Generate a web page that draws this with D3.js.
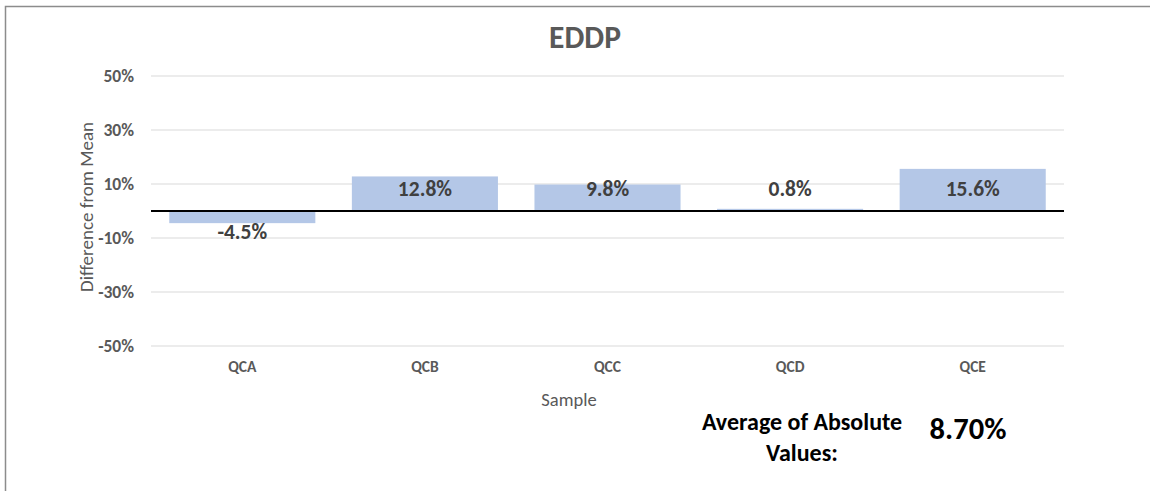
<!DOCTYPE html>
<html>
<head>
<meta charset="utf-8">
<script src="https://cdn.jsdelivr.net/npm/d3@7"></script>
<style>
  body { margin: 0; background: #fff; }
  svg { display: block; font-family: Calibri, Carlito, Lato, "Open Sans", sans-serif; }
</style>
</head>
<body>
<div id="chart"></div>
<script>
const categories = ['QCA', 'QCB', 'QCC', 'QCD', 'QCE'];
const values = [-4.5, 12.8, 9.8, 0.8, 15.6];
const yTicks = [-50, -30, -10, 10, 30, 50];
const title = 'EDDP';
const averageAbs = '8.70%';

const width = 1150, height = 491;
const margin = [76, 145, 151, 86]; // top, bottom, left, right
const font = 'Calibri, Carlito, Lato, sans-serif';

const svg = d3.select('#chart').append('svg')
    .attr('width', width).attr('height', height);

// outer frame (top and left edges visible)
svg.append('path')
    .attr('d', `M5.5,${height} V6.5 H${width}`)
    .attr('fill', 'none').attr('stroke', '#8c8c8c').attr('stroke-width', 1.5);

const scaleX = d3.scaleBand(categories, [margin[2], width - margin[3]])
    .paddingInner(0.2).paddingOuter(0.1);
const scaleY = d3.scaleLinear([-50, 50], [height - margin[1], margin[0]]);

// gridlines
svg.append('g').selectAll('line')
    .data(yTicks)
    .join('line')
    .attr('x1', margin[2]).attr('x2', width - margin[3])
    .attr('y1', d => scaleY(d)).attr('y2', d => scaleY(d))
    .attr('stroke', '#d9d9d9').attr('stroke-width', 1.2);

// y axis labels
const axisY = svg.append('g')
    .attr('transform', `translate(${margin[2] - 5},0)`)
    .call(d3.axisLeft(scaleY).tickValues(yTicks).tickSize(0).tickPadding(12)
        .tickFormat(d => d + '%'));
axisY.select('.domain').remove();
axisY.selectAll('text')
    .attr('font-family', font)
    .attr('font-size', 17.5).attr('font-weight', 'bold').attr('fill', '#595959');

// x axis labels
const axisX = svg.append('g')
    .attr('transform', `translate(0,${scaleY(-50)})`)
    .call(d3.axisBottom(scaleX).tickSize(0));
axisX.select('.domain').remove();
axisX.selectAll('text')
    .attr('y', 26).attr('dy', 0)
    .attr('font-family', font)
    .attr('font-size', 15.5).attr('font-weight', 'bold').attr('fill', '#595959');

// bars
svg.append('g').selectAll('rect')
    .data(values)
    .join('rect')
    .attr('x', (d, i) => scaleX(categories[i]))
    .attr('width', scaleX.bandwidth())
    .attr('y', d => scaleY(Math.max(0, d)))
    .attr('height', d => Math.abs(scaleY(d) - scaleY(0)))
    .attr('fill', '#b4c7e7');

// zero line
svg.append('line')
    .attr('x1', margin[2]).attr('x2', width - margin[3])
    .attr('y1', scaleY(0)).attr('y2', scaleY(0))
    .attr('stroke', '#000').attr('stroke-width', 2);

// value labels (inside base)
svg.append('g').selectAll('text')
    .data(values)
    .join('text')
    .attr('x', (d, i) => scaleX(categories[i]) + scaleX.bandwidth() / 2)
    .attr('y', d => scaleY(0) + (d >= 0 ? -15 : 28))
    .attr('text-anchor', 'middle')
    .attr('font-size', 21.5).attr('font-weight', 'bold').attr('fill', '#404040')
    .text(d => d.toFixed(1) + '%');

// title
svg.append('text')
    .attr('x', 585).attr('y', 48)
    .attr('text-anchor', 'middle')
    .attr('font-size', 31.5).attr('font-weight', 'bold').attr('fill', '#595959')
    .text(title);

// axis titles
svg.append('text')
    .attr('transform', `translate(93,207)rotate(-90)`)
    .attr('text-anchor', 'middle')
    .attr('font-size', 19).attr('fill', '#595959')
    .text('Difference from Mean');
svg.append('text')
    .attr('x', 569).attr('y', 406)
    .attr('text-anchor', 'middle')
    .attr('font-size', 18.5).attr('fill', '#595959')
    .text('Sample');

// average note
const note = svg.append('text')
    .attr('text-anchor', 'middle')
    .attr('font-size', 24).attr('font-weight', 'bold').attr('fill', '#000');
note.append('tspan').attr('x', 802).attr('y', 430).text('Average of Absolute');
note.append('tspan').attr('x', 802).attr('y', 461).text('Values:');
svg.append('text')
    .attr('x', 968).attr('y', 439)
    .attr('text-anchor', 'middle')
    .attr('font-size', 30.5).attr('font-weight', 'bold').attr('fill', '#000')
    .text(averageAbs);
</script>
</body>
</html>
